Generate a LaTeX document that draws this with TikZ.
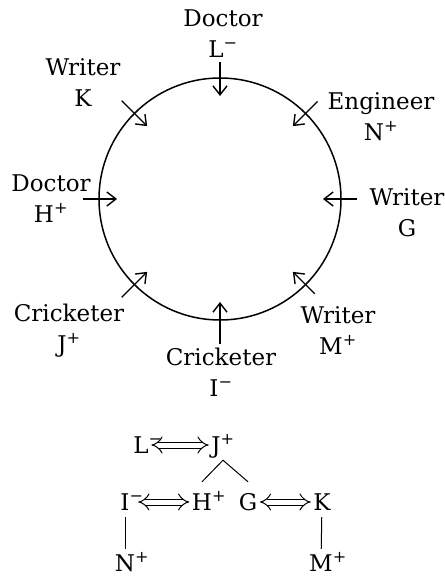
\documentclass[tikz,border=0pt]{standalone}
\usepackage{fontspec}
\setmainfont{DejaVu Serif}
\usetikzlibrary{arrows.meta, calc}

\begin{document}
\begin{tikzpicture}[
    x=1pt, y=1pt,
    every node/.style={font=\fontsize{23}{31}\selectfont},
    person/.style={align=center, inner sep=0pt},
    ring/.style={circle, draw, line width=1.5pt, minimum size=242pt, inner sep=0pt},
    arrow/.style={-{Straight Barb[length=9pt, width=14pt]}, line width=1.4pt},
    letter/.style={inner sep=2.5pt, text height=17pt, text depth=0pt},
    pair/.style={double, double distance=5pt, line width=1pt,
                 {Implies[length=9pt, width=18pt]}-{Implies[length=9pt, width=18pt]}},
    link/.style={line width=1pt},
]
    \useasboundingbox (0,0) rectangle (444,-577);

    % Circle
    \node[ring] (ring) at (220,-199) {};

    % People round the circle
    \node[person] (doctorL) at (223,-34) {Doctor\\L\textsuperscript{−}};
    \node[person] (writerK) at (83,-83) {Writer\\K};
    \node[person] (engineerN) at (381,-117) {Engineer\\N\textsuperscript{+}};
    \node[person] (doctorH) at (51,-199) {Doctor\\H\textsuperscript{+}};
    \node[person] (writerG) at (407,-213) {Writer\\G};
    \node[person] (cricketerJ) at (69,-331) {Cricketer\\J\textsuperscript{+}};
    \node[person] (writerM) at (338,-331) {Writer\\M\textsuperscript{+}};
    \node[person] (cricketerI) at (221,-372) {Cricketer\\I\textsuperscript{−}};

    % Arrows into the circle
    \foreach \name/\ang/\r in {L/90/137, K/135/139, N/45/138, H/180/137,
                               G/0/137, J/225/139, M/315/134, I/270/145} {
        \coordinate (out\name) at ($(ring.center)+(\ang:\r)$);
        \coordinate (in\name) at ($(ring.center)+(\ang:103)$);
        \draw[arrow] (out\name) -- (in\name);
    }

    % Arrangement below
    \node[letter] (L) at (141,-445) {L\rlap{\textsuperscript{−}}};
    \node[letter] (J) at (216,-445) {J\rlap{\textsuperscript{+}}};
    \node[letter] (I) at (125,-502) {I\rlap{\textsuperscript{−}}};
    \node[letter] (H) at (202,-502) {H\rlap{\textsuperscript{+}}};
    \node[letter] (G) at (248,-502) {G};
    \node[letter] (K) at (322,-502) {K};
    \node[letter] (N) at (125,-563) {N\rlap{\textsuperscript{+}}};
    \node[letter] (M) at (321,-563) {M\rlap{\textsuperscript{+}}};

    \draw[pair] (L) -- (J);
    \draw[pair, shorten <=6pt] (I) -- (H);
    \draw[pair] (G) -- (K);
    \draw[link] ([yshift=9pt]H.north) -- ([xshift=7pt, yshift=-4pt]J.south) -- ([yshift=9pt]G.north);
    \draw[link, shorten <=4pt, shorten >=3pt] (I) -- (N);
    \draw[link, shorten <=4pt, shorten >=3pt] (K) -- (M);
\end{tikzpicture}
\end{document}
